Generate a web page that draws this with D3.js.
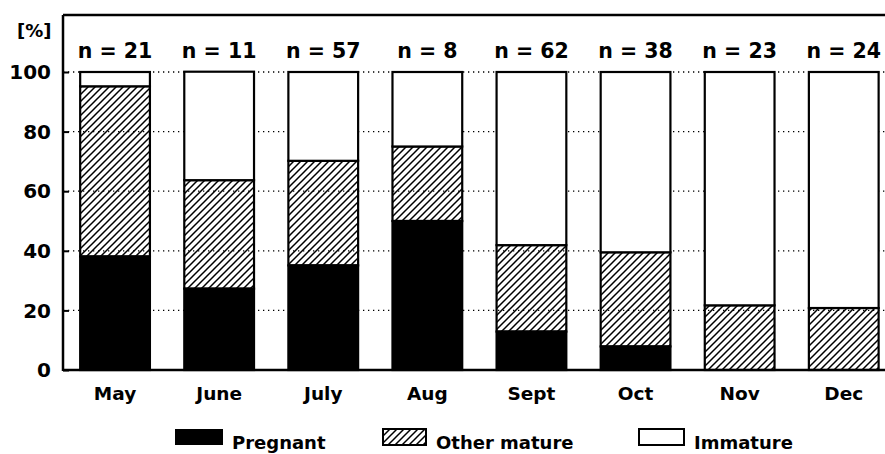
<!DOCTYPE html>
<html>
<head>
<meta charset="utf-8">
<script src="https://cdn.jsdelivr.net/npm/d3@7"></script>
<style>
    body { margin: 0; background: #fff; }
    text { font-family: "DejaVu Sans", "Liberation Sans", sans-serif; font-weight: bold; fill: #000; }
</style>
</head>
<body>
<div id="c"></div>
<script>
"use strict";

const months = ["May", "June", "July", "Aug", "Sept", "Oct", "Nov", "Dec"]
const nCounts = [21, 11, 57, 8, 62, 38, 23, 24]
const pregnant = [38.1, 27.3, 35.1, 50, 12.9, 7.9, 0, 0]
const otherMature = [57.1, 36.4, 35.1, 25, 29.0, 31.6, 21.7, 20.8]
const immature = [4.8, 36.4, 29.8, 25, 58.1, 60.5, 78.3, 79.2]
const yTicks = [0, 20, 40, 60, 80, 100]
const legendLabels = ["Pregnant", "Other mature", "Immature"]

const chartW = 885, chartH = 454
const plotLeft = 63, plotTop = 15, plotBottom = 370

let svg = d3.select('#c').append('svg')
    .attr('width', chartW).attr('height', chartH)

// hatch for "other mature"
svg.append('defs').append('pattern')
    .attr('id', 'hatch')
    .attr('patternUnits', 'userSpaceOnUse')
    .attr('width', 7).attr('height', 7)
  .append('path')
    .attr('d', 'M-1,1 l2,-2 M0,7 l7,-7 M6,8 l2,-2')
    .attr('stroke', '#000')
    .attr('stroke-width', 1.5)

let xScale = d3.scaleBand()
    .domain(months)
    .range([plotLeft, plotLeft + 8 * 104.1])
    .paddingInner(0.33)
    .paddingOuter(0.165)

let yScale = d3.scaleLinear()
    .domain([0, 100])
    .range([plotBottom, 72])

// dotted grid
svg.append('g').selectAll('line')
    .data(yTicks.filter(d => d > 0))
    .enter().append('line')
        .attr('x1', plotLeft).attr('x2', chartW)
        .attr('y1', d => yScale(d)).attr('y2', d => yScale(d))
        .attr('stroke', '#000')
        .attr('stroke-width', 1.3)
        .attr('stroke-dasharray', '1.3,3.7')

// axes frame
let yAxis = svg.append('g')
    .attr('transform', 'translate(' + plotLeft + ',0)')
    .call(d3.axisRight(yScale).tickValues(yTicks).tickSize(6).tickFormat(''))
yAxis.select('.domain').remove()
yAxis.selectAll('line').attr('stroke-width', 2)

svg.append('line').attr('x1', plotLeft).attr('x2', plotLeft).attr('y1', plotTop).attr('y2', plotBottom + 1)
    .attr('stroke', '#000').attr('stroke-width', 2.5)
svg.append('line').attr('x1', plotLeft).attr('x2', chartW).attr('y1', plotTop).attr('y2', plotTop)
    .attr('stroke', '#000').attr('stroke-width', 2.5)

svg.append('g').selectAll('text')
    .data(yTicks)
    .enter().append('text')
        .attr('x', 51)
        .attr('y', d => yScale(d))
        .attr('dy', '0.36em')
        .attr('text-anchor', 'end')
        .style('font-size', '20px')
        .text(d => d)

svg.append('text')
    .attr('x', 17).attr('y', 37)
    .style('font-size', '18px')
    .text('[%]')

// stacked bars
let fills = ['#000', 'url(#hatch)', '#fff']
let rows = months.map((m, i) => ({ month: m, vals: [pregnant[i], otherMature[i], immature[i]] }))
rows.forEach(r => {
    let y0 = 0
    r.vals.forEach((v, k) => {
        if (v > 0) {
            svg.append('rect')
                .attr('x', xScale(r.month))
                .attr('width', xScale.bandwidth())
                .attr('y', yScale(y0 + v))
                .attr('height', yScale(y0) - yScale(y0 + v))
                .attr('fill', fills[k])
                .attr('stroke', '#000')
                .attr('stroke-width', 2.2)
        }
        y0 += v
    })
})

svg.append('line').attr('x1', plotLeft).attr('x2', chartW).attr('y1', plotBottom).attr('y2', plotBottom)
    .attr('stroke', '#000').attr('stroke-width', 2.5)

// n labels
svg.append('g').selectAll('text')
    .data(months)
    .enter().append('text')
        .attr('x', d => xScale(d) + xScale.bandwidth() / 2)
        .attr('y', 58)
        .attr('text-anchor', 'middle')
        .style('font-size', '20.5px')
        .text((d, i) => 'n = ' + nCounts[i])

// month labels
svg.append('g').selectAll('text')
    .data(months)
    .enter().append('text')
        .attr('x', d => xScale(d) + xScale.bandwidth() / 2)
        .attr('y', 400)
        .attr('text-anchor', 'middle')
        .style('font-size', '18.5px')
        .text(d => d)

// legend
let legendX = [175, 382, 638]
let legendW = [48, 45, 47]
let legend = svg.append('g')
legendLabels.forEach((lbl, k) => {
    legend.append('rect')
        .attr('x', legendX[k] + (k == 0 ? 0 : 1))
        .attr('y', 429)
        .attr('width', legendW[k] - (k == 0 ? 0 : 2))
        .attr('height', 16)
        .attr('fill', fills[k])
        .attr('stroke', '#000')
        .attr('stroke-width', k == 0 ? 0 : 2)
    legend.append('text')
        .attr('x', legendX[k] + legendW[k] + 9)
        .attr('y', 449)
        .style('font-size', '18px')
        .text(lbl)
})
</script>
</body>
</html>
